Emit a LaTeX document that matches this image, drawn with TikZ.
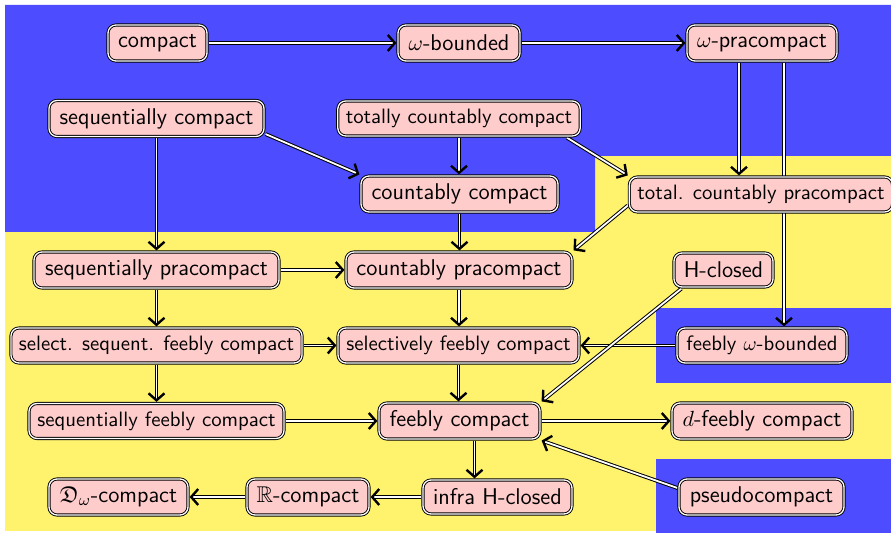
\documentclass[tikz,border=0pt]{standalone}
\usepackage{amssymb}
\usetikzlibrary{arrows.meta,calc}

\definecolor{zoneblue}{RGB}{77,77,255}
\definecolor{zoneyellow}{RGB}{255,243,110}
\definecolor{boxpink}{RGB}{255,204,204}

\pgfdeclarelayer{zones}
\pgfdeclarelayer{edges}
\pgfsetlayers{zones,edges,main}

\tikzset{
  prop/.style={draw=black, double=white, line width=0.45pt, double distance=0.65pt,
    fill=boxpink, rounded corners=4pt, inner xsep=4pt, inner ysep=2pt,
    outer sep=0.8pt, minimum height=18pt, font=\sffamily\fontsize{11.4}{13}\selectfont},
  propsmall/.style={prop, minimum height=17.5pt, font=\sffamily\fontsize{10.4}{12}\selectfont},
  imp/.style={draw=black, double=white, line width=0.5pt, double distance=0.9pt,
    -{Straight Barb[length=3.5pt,width=8pt,line width=1.2pt]}},
}

\begin{document}
\begin{tikzpicture}[x=0.5pt,y=-0.5pt]
\useasboundingbox (0,0) rectangle (891,533);

% properties
\node[prop, minimum width=49.5pt] (compact) at (157.5,43) {compact};
\node[prop, minimum width=61pt] (wb) at (459,43) {$\omega$-bounded};
\node[prop, minimum width=75pt] (wp) at (762,43) {$\omega$-pracompact};

\node[prop, minimum width=107.5pt] (sc) at (156.5,118.5) {sequentially compact};
\node[propsmall, minimum width=121pt] (tcc) at (459,118.5) {totally countably compact};

\node[prop, minimum width=98.5pt] (cc) at (459.5,194) {countably compact};
\node[propsmall, minimum width=129pt] (tcp) at (761,194.5) {total. countably pracompact};

\node[prop, minimum width=122.5pt] (sp) at (156.5,270) {sequentially pracompact};
\node[prop, minimum width=113pt] (cp) at (459,270) {countably pracompact};
\node[prop, minimum width=49.5pt, minimum height=17pt] (hc) at (723.5,270) {H-closed};

\node[propsmall, minimum width=143.5pt] (ssfc) at (156.5,345.5) {select. sequent. feebly compact};
\node[propsmall, minimum width=120.5pt] (sfc) at (458.5,345.5) {selectively feebly compact};
\node[propsmall, minimum width=85pt] (fwb) at (762,345.5) {feebly $\omega$-bounded};

\node[propsmall, minimum width=127.5pt] (sqfc) at (156.5,421) {sequentially feebly compact};
\node[prop, minimum width=80.5pt] (fc) at (459.5,421) {feebly compact};
\node[prop, minimum width=90pt] (dfc) at (762,421) {$d$-feebly compact};

\node[prop, minimum width=69.5pt] (dw) at (118.5,497) {$\mathfrak{D}_\omega$-compact};
\node[prop, minimum width=61pt] (rc) at (308,497) {$\mathbb{R}$-compact};
\node[prop, minimum width=74.5pt, minimum height=17pt] (ihc) at (497.5,497) {infra H-closed};
\node[prop, minimum width=82.5pt] (pc) at (761.5,497) {pseudocompact};

% implications
\begin{pgfonlayer}{edges}
\draw[imp] (compact.east) -- (wb.west);
\draw[imp] (wb.east) -- (wp.west);
\draw[imp] ([xshift=-11.5pt]wp.south) -- ([xshift=-11.5pt]wp.south |- tcp.north);
\draw[imp] ([xshift=11pt]wp.south) -- ([xshift=11pt]wp.south |- fwb.north);
\draw[imp] (sc.south) -- (sp.north);
\draw[imp] ([yshift=2pt]sc.south east) -- (cc.north west);
\draw[imp] (tcc.south) -- (tcc.south |- cc.north);
\draw[imp] ([xshift=-7.5pt]tcc.south east) -- (tcp.north west);
\draw[imp] (cc.south) -- (cc.south |- cp.north);
\draw[imp] ([yshift=-5.5pt]tcp.west) -- (cp.north east);
\draw[imp] (sp.east) -- (cp.west);
\draw[imp] (sp.south) -- (ssfc.north);
\draw[imp] (cp.south) -- (cp.south |- sfc.north);
\draw[imp] (ssfc.east) -- (sfc.west);
\draw[imp] (fwb.west) -- (sfc.east);
\draw[imp] (ssfc.south) -- (sqfc.north);
\draw[imp] (sfc.south) -- (sfc.south |- fc.north);
\draw[imp] (sqfc.east) -- (fc.west);
\draw[imp] ([xshift=4.5pt]hc.south west) -- (fc.north east);
\draw[imp] (fc.east) -- (dfc.west);
\draw[imp] ([yshift=4.5pt]pc.west) -- (fc.south east);
\draw[imp] ([xshift=7.5pt]fc.south) -- ([xshift=7.5pt]fc.south |- ihc.north);
\draw[imp] (ihc.west) -- (rc.east);
\draw[imp] (rc.west) -- (dw.east);
\end{pgfonlayer}

% coloured zones
\begin{pgfonlayer}{zones}
\fill[white] (0,0) rectangle (891,533);
\fill[zoneyellow] (5,5) rectangle (891,531);
\fill[zoneblue] (5,5) -- (891,5) -- (891,156) -- (595,156) -- (595,232) -- (5,232) -- cycle;
\fill[zoneblue] (656,308) rectangle (891,383);
\fill[zoneblue] (656,459) rectangle (891,533);
\end{pgfonlayer}
\end{tikzpicture}
\end{document}
